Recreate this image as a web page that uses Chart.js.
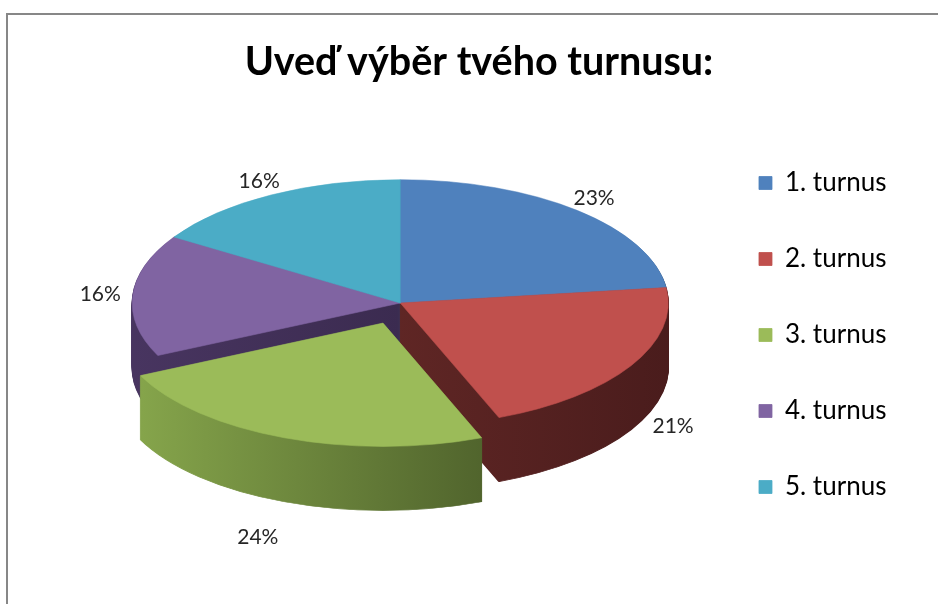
<!DOCTYPE html>
<html><head><meta charset="utf-8">
<script src="https://cdn.jsdelivr.net/npm/chart.js@4/dist/chart.umd.min.js"></script>
<style>
html,body{margin:0;padding:0;background:#fff;}
#wrap{position:relative;width:938px;height:604px;overflow:hidden;}
#frame{position:absolute;left:6px;top:13px;width:1000px;height:1000px;border-left:2px solid #878787;border-top:2px solid #878787;}
canvas{position:absolute;left:0;top:0;}
</style></head><body>
<div id="wrap"><div id="frame"></div><canvas id="c" width="938" height="604"></canvas></div>
<script>
// ---- data ----
const chartTitle = 'Uveď výběr tvého turnusu:';
const categories = ['1. turnus', '2. turnus', '3. turnus', '4. turnus', '5. turnus'];
const shares = [23, 21, 24, 16, 16];
const explodedCategory = '3. turnus';

// ---- style ----
const topColors = ['#4F81BD', '#C0504D', '#9BBB59', '#8064A2', '#4BACC6'];
const sideColors = [
  ['#3D6494', '#263F5E'],
  ['#74302D', '#4A1C1C'],
  ['#89A94D', '#37451E'],
  ['#483560', '#2E2140'],
  ['#37869B', '#225563']
];
const PROJ = { K: 0.46, DEPTH: 64, LIFT: 32, SX: 15 };
const FONT = 'Lato';

function applyProjection(ctx, cx, cy) {
  ctx.translate(cx + PROJ.SX, cy - PROJ.LIFT);
  ctx.scale(1, PROJ.K);
  ctx.translate(-cx, -cy);
}

const pie3d = {
  id: 'pie3d',
  beforeDatasetsDraw(chart) {
    const arcs = chart.getDatasetMeta(0).data;
    const ctx = chart.ctx;
    ctx.save();
    if (!arcs.length) return;
    const { x: cx, y: cy, outerRadius: R } = arcs[0];
    applyProjection(ctx, cx, cy);
    const grads = sideColors.map(([a, b]) => {
      const g = ctx.createLinearGradient(cx - R, 0, cx + R, 0);
      g.addColorStop(0, a); g.addColorStop(1, b);
      return g;
    });
    // back slices first, front slices last
    const order = arcs.map((arc, i) => i).sort((a, b) => {
      const ma = (arcs[a].startAngle + arcs[a].endAngle) / 2;
      const mb = (arcs[b].startAngle + arcs[b].endAngle) / 2;
      return Math.sin(ma) - Math.sin(mb);
    });
    order.forEach(i => {
      const arc = arcs[i];
      const side = Object.create(arc);
      side.options = Object.assign({}, arc.options, {
        backgroundColor: grads[i], borderColor: grads[i], borderWidth: 1.5
      });
      for (let d = PROJ.DEPTH; d >= 1; d--) {
        ctx.save();
        ctx.translate(0, d / PROJ.K);
        arc.constructor.prototype.draw.call(side, ctx);
        ctx.restore();
      }
    });
  },
  afterDatasetsDraw(chart) {
    const ctx = chart.ctx;
    ctx.restore();
    const arcs = chart.getDatasetMeta(0).data;
    if (!arcs.length) return;
    const { x, y: cy, outerRadius: R } = arcs[0];
    const cx = x + PROJ.SX;
    const cyS = cy - PROJ.LIFT;
    const values = chart.data.datasets[0].data;
    const total = values.reduce((a, b) => a + b, 0);
    ctx.save();
    ctx.font = '21px ' + FONT;
    ctx.fillStyle = '#262626';
    ctx.textBaseline = 'middle';
    arcs.forEach((arc, i) => {
      const h = (arc.startAngle + arc.endAngle) / 2;
      const off = (arc.options.offset || 0) / 4;
      const c = Math.cos(h), s = Math.sin(h);
      const ax = cx + c * off, ay = cyS + PROJ.K * s * off;
      const lx = ax + c * (R + (c < -0.8 ? 12 : 25) + off);
      const ly = ay + PROJ.K * s * (R + 35 + off) + (s > 0 ? PROJ.DEPTH * Math.min(1, 1.6 * s) : 0);
      ctx.textAlign = c > 0.8 ? 'left' : (c < -0.8 ? 'right' : 'center');
      ctx.fillText(Math.round(values[i] / total * 100) + '%', lx, ly);
    });
    ctx.restore();
  }
};

new Chart(document.getElementById('c'), {
  type: 'pie',
  data: {
    labels: categories,
    datasets: [{
      data: shares,
      backgroundColor: topColors,
      borderColor: topColors,
      borderWidth: 0.8,
      offset: categories.map(c => c === explodedCategory ? 188 : 0),
      radius: 268
    }]
  },
  options: {
    responsive: false,
    animation: false,
    events: [],
    layout: { padding: { left: 61.6, right: 41.6, top: 0, bottom: 49 } },
    plugins: {
      title: {
        display: true,
        text: chartTitle,
        color: '#000',
        font: { family: FONT, size: 39.5, weight: 'bold', lineHeight: 1.2 },
        padding: { top: 38.3, bottom: 29.3 }
      },
      legend: {
        position: 'right',
        align: 'center',
        fullSize: false,
        labels: {
          color: '#000',
          font: { family: FONT, size: 26 },
          boxWidth: 13,
          boxHeight: 13,
          padding: 50
        }
      },
      tooltip: { enabled: false }
    }
  },
  plugins: [pie3d]
});
</script>
</body></html>
